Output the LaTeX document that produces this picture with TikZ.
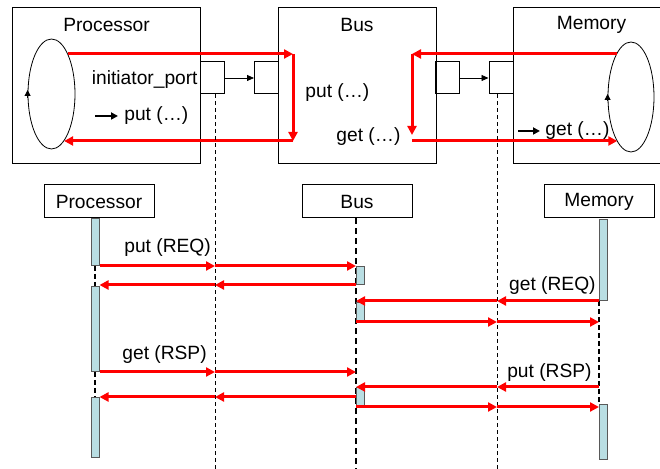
\documentclass[tikz,border=0pt]{standalone}
\usepackage{fontspec}
\setmainfont{Liberation Sans}
\usetikzlibrary{arrows.meta,shapes.geometric}
\definecolor{barfill}{RGB}{185,222,227}

\begin{document}
\begin{tikzpicture}[x=0.5pt, y=-0.5pt,
    font=\fontsize{9.6}{11.5}\selectfont,
    box/.style={draw, line width=0.5pt, inner sep=0pt},
    portBox/.style={box, minimum width=12pt, minimum height=16pt},
    lifeHead/.style={box, minimum width=55pt, minimum height=16.5pt},
    loopShape/.style={draw, ellipse, line width=0.4pt, inner sep=0pt, minimum width=23.5pt, minimum height=55pt},
    loopTip/.style={line width=0.4pt, -{Triangle[length=3pt,width=3pt]}},
    portArrow/.style={line width=0.4pt, -{Triangle[length=3.5pt,width=3pt]}},
    callArrow/.style={line width=0.9pt, -{Triangle[length=3.5pt,width=3.5pt]}},
    redArrow/.style={red, line width=1.5pt, -{Triangle[length=4.5pt,width=4.5pt]}},
    actBar/.style={draw=black!65, fill=barfill, line width=0.5pt, inner sep=0pt, minimum width=4pt},
    cutLine/.style={line width=0.5pt, dash pattern=on 2pt off 1.5pt},
    txt/.style={inner sep=0pt}]
    \useasboundingbox (0,0) rectangle (660,469);

    % Processor module
    \node[box, minimum width=94pt, minimum height=78pt] (procMod) at (106,86) {};
    \node[txt] (procTitle) at (106.5,25) {Processor};
    \node[loopShape] (procLoop) at (51.5,94) {};
    \draw[loopTip] ([yshift=-2pt]procLoop.west) -- ([yshift=2pt]procLoop.west);
    \node[txt, anchor=east] (portLbl) at (198,80) {initiator\_port};
    \node[txt, anchor=west] (putCall) at (124,116) {put (…)};
    \draw[callArrow] ([xshift=-14.5pt]putCall.west) -- ([xshift=-3pt]putCall.west);

    % Bus module
    \node[box, minimum width=79pt, minimum height=78pt] (busMod) at (357,86) {};
    \node[txt] (busTitle) at (357,25) {Bus};
    \node[txt, anchor=west] (busPut) at (305,93) {put (…)};
    \node[txt, anchor=west] (busGet) at (336,137) {get (…)};

    % Memory module (cut off by the right edge)
    \draw[line width=0.5pt] (664,8) -- (513,8) -- (513,164) -- (664,164);
    \node[txt] (memTitle) at (591.5,25) {Memory};
    \node[loopShape, minimum width=23pt] (memLoop) at (631,97) {};
    \draw[loopTip] ([yshift=-2pt]memLoop.west) -- ([yshift=1.5pt]memLoop.west);
    \node[txt, anchor=west] (memGet) at (545,131) {get (…)};
    \draw[callArrow] ([xshift=-13.5pt]memGet.west) -- ([xshift=-2.5pt]memGet.west);

    % ports and bindings
    \node[portBox] (initPort) at (212,78) {};
    \node[portBox] (busInPort) at (266.5,78) {};
    \node[portBox] (busOutPort) at (447.5,78) {};
    \node[portBox] (memPort) at (501,78) {};
    \draw[portArrow] (initPort) -- (busInPort);
    \draw[portArrow] (busOutPort) -- (memPort);

    % put: processor -> bus and back
    \coordinate (putTurn) at (293,54);
    \coordinate (putBack) at (293,141);
    \draw[redArrow] (putTurn -| procLoop.68) -- (putTurn);
    \draw[redArrow] (putTurn) -- (putBack);
    \draw[redArrow] (putBack) -- (putBack -| procLoop.285);

    % get: memory -> bus and back
    \coordinate (getTurn) at (412,54);
    \coordinate (getBack) at (412,141);
    \draw[redArrow] (getTurn -| memLoop.108) -- (getTurn);
    \draw[redArrow, shorten >=3pt] (getTurn) -- (getBack);
    \draw[redArrow] (getBack) -- (getBack -| memLoop.253);

    % dashed cuts down from the ports
    \coordinate (cutA) at (215,469);
    \coordinate (cutB) at (497,469);
    \draw[cutLine] (initPort.south -| cutA) -- (cutA);
    \draw[cutLine] (memPort.south -| cutB) -- (cutB);

    % sequence chart heads
    \node[lifeHead] (procHead) at (99,201.5) {Processor};
    \node[lifeHead] (busHead) at (357,201.5) {Bus};
    \node[lifeHead] (memHead) at (599,201.5) {Memory};

    % bus lifeline
    \coordinate (busEnd) at (356,469);
    \draw[line width=1pt, dash pattern=on 3pt off 2pt] (busHead.south -| busEnd) -- (busEnd);

    % activation bars
    \node[actBar, minimum height=23.5pt, anchor=north] (procBar1) at (95,218) {};
    \node[actBar, minimum height=42.5pt, anchor=north] (procBar2) at (95,286) {};
    \node[actBar, minimum height=30pt, anchor=north] (procBar3) at (95,397) {};
    \node[actBar, minimum height=9pt, anchor=north west] (busBar1) at (356,266) {};
    \node[actBar, minimum height=9.5pt, anchor=north west] (busBar2) at (356,302) {};
    \node[actBar, minimum height=9.5pt, anchor=north west] (busBar3) at (356,387) {};
    \node[actBar, minimum height=40.5pt, anchor=north west] (memBar1) at (599,219) {};
    \node[actBar, minimum height=27.5pt, anchor=north west] (memBar2) at (599,404) {};

    % lifelines between bars
    \draw[line width=0.6pt, dash pattern=on 2.5pt off 1.5pt] (procBar1) -- (procBar2);
    \draw[line width=0.6pt, dash pattern=on 2.5pt off 1.5pt] (procBar2) -- (procBar3);
    \draw[line width=0.9pt, dash pattern=on 2.5pt off 1.5pt] (memBar1.south west) -- (memBar2.north west);

    % put (REQ)
    \node[txt, anchor=west] (putReq) at (124,248) {put (REQ)};
    \draw[redArrow] (procBar1.south east) -- (cutA |- procBar1.south);
    \draw[redArrow] (cutA |- procBar1.south) -- (busEnd |- procBar1.south);
    % return to processor
    \draw[redArrow] (busBar1.south west) -- (cutA |- busBar1.south);
    \draw[redArrow] (cutA |- busBar1.south) -- (procBar2.north east |- busBar1.south);

    % get (REQ)
    \node[txt, anchor=east] (getReq) at (596,286) {get (REQ)};
    \draw[redArrow] (memBar1.south west) -- (cutB |- memBar1.south);
    \draw[redArrow] (cutB |- memBar1.south) -- (busBar2.north west |- memBar1.south);
    % return to memory
    \draw[redArrow] (busBar2.south west) -- (cutB |- busBar2.south);
    \draw[redArrow] (cutB |- busBar2.south) -- (memBar1.south west |- busBar2.south);

    % get (RSP)
    \node[txt, anchor=west] (getRsp) at (122,355) {get (RSP)};
    \draw[redArrow] (procBar2.south east) -- (cutA |- procBar2.south);
    \draw[redArrow] (cutA |- procBar2.south) -- (busEnd |- procBar2.south);
    % return to processor
    \draw[redArrow] (busEnd |- procBar3.north) -- (cutA |- procBar3.north);
    \draw[redArrow] (cutA |- procBar3.north) -- (procBar3.north east);

    % put (RSP)
    \node[txt, anchor=east] (putRsp) at (592,373) {put (RSP)};
    \draw[redArrow] (memBar1.south west |- busBar3.north) -- (cutB |- busBar3.north);
    \draw[redArrow] (cutB |- busBar3.north) -- (busBar3.north west);
    % return to memory
    \draw[redArrow] (busBar3.south west) -- (cutB |- busBar3.south);
    \draw[redArrow] (cutB |- busBar3.south) -- (memBar2.north west |- busBar3.south);
\end{tikzpicture}
\end{document}
